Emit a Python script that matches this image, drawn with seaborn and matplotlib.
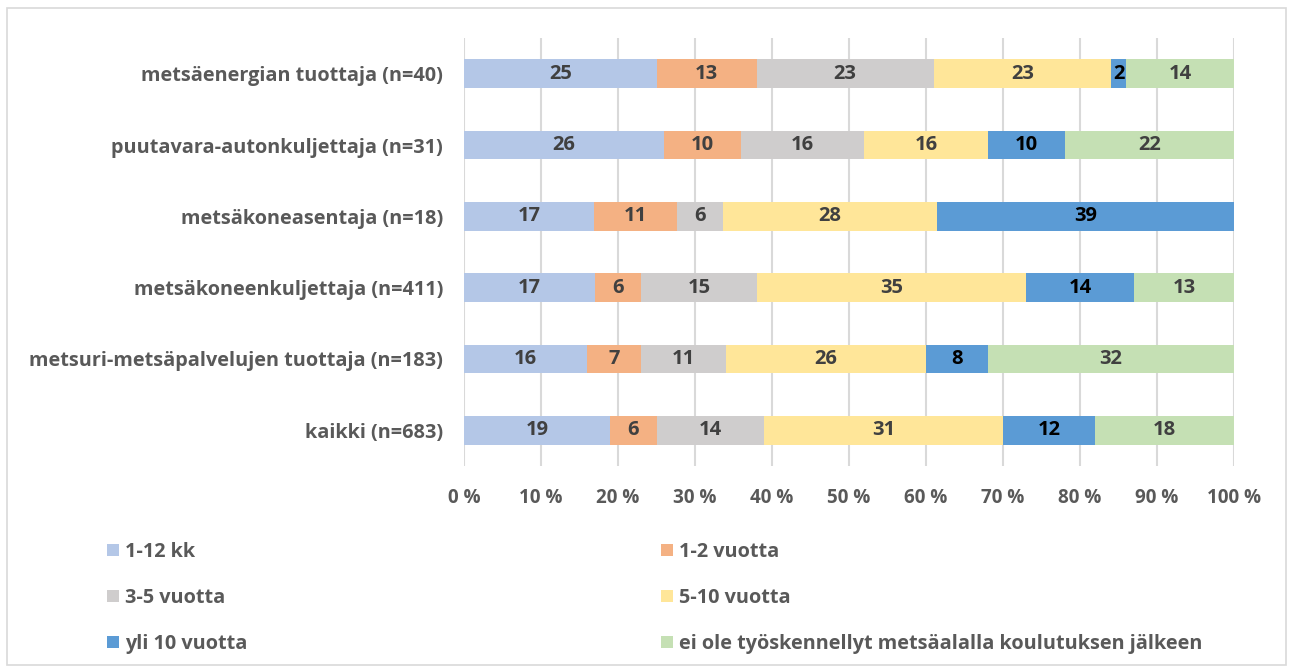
import matplotlib
matplotlib.use("Agg")
import matplotlib.pyplot as plt
import seaborn as sns
import pandas as pd
import numpy as np
from matplotlib.patches import Patch, Rectangle

categories = [
    "metsäenergian tuottaja (n=40)",
    "puutavara-autonkuljettaja (n=31)",
    "metsäkoneasentaja (n=18)",
    "metsäkoneenkuljettaja (n=411)",
    "metsuri-metsäpalvelujen tuottaja (n=183)",
    "kaikki (n=683)",
]
series_names = ["1-12 kk", "1-2 vuotta", "3-5 vuotta", "5-10 vuotta", "yli 10 vuotta",
                "ei ole työskennellyt metsäalalla koulutuksen jälkeen"]
v_1_12kk = [25, 26, 17, 17, 16, 19]
v_1_2 = [13, 10, 11, 6, 7, 6]
v_3_5 = [23, 16, 6, 15, 11, 14]
v_5_10 = [23, 16, 28, 35, 26, 31]
v_yli10 = [2, 10, 39, 14, 8, 12]
v_ei = [14, 22, 0, 13, 32, 18]
tick_labels = ["0 %", "10 %", "20 %", "30 %", "40 %", "50 %", "60 %", "70 %", "80 %", "90 %", "100 %"]

colors = ["#B4C7E7", "#F4B183", "#CFCDCD", "#FFE699", "#5B9BD5", "#C5E0B4"]
label_colors = ["#404040", "#404040", "#404040", "#404040", "#000000", "#404040"]

sns.set_theme(style="white")
plt.rcParams["font.family"] = ["Open Sans", "DejaVu Sans"]
plt.rcParams["font.weight"] = "bold"

FS = 14.3
FS_VAL = 14.5
FS_TICK = 13.6

vals = np.array([v_1_12kk, v_1_2, v_3_5, v_5_10, v_yli10, v_ei], dtype=float)
totals = vals.sum(axis=0)
pct = vals / totals * 100
cum = np.cumsum(pct, axis=0)

fig = plt.figure(figsize=(12.93, 6.69), dpi=100)
ax = fig.add_axes([464 / 1293, 1 - 466 / 669, 770 / 1293, 428 / 669])

for i in range(len(series_names) - 1, -1, -1):
    df = pd.DataFrame({"cat": categories, "val": cum[i]})
    sns.barplot(data=df, x="val", y="cat", orient="h", color=colors[i],
                saturation=1, width=0.4, ax=ax, order=categories, linewidth=0)

for i in range(len(series_names)):
    for j in range(len(categories)):
        if vals[i, j] > 0:
            left = cum[i, j] - pct[i, j]
            ax.text(left + pct[i, j] / 2, j, f"{int(vals[i, j])}", ha="center", va="center",
                    fontsize=FS_VAL, fontweight="bold", color=label_colors[i])

ax.set_xlim(0, 100)
ax.set_ylim(5.5, -0.5)
ax.set_xticks(np.arange(0, 101, 10))
ax.set_xticklabels(tick_labels, fontsize=FS_TICK, fontweight="bold", color="#595959")
ax.set_yticks(range(len(categories)))
ax.set_yticklabels(categories, fontsize=FS, fontweight="bold", color="#595959")
ax.tick_params(axis="x", length=0, pad=16)
ax.tick_params(axis="y", length=0, pad=15)
ax.set_xlabel("")
ax.set_ylabel("")
ax.grid(axis="x", color="#D9D9D9", linewidth=1.5)
ax.set_axisbelow(True)
for s in ax.spines.values():
    s.set_visible(False)

handles = [Patch(facecolor=c, edgecolor="none") for c in colors]
leg_kw = dict(loc="center left", frameon=False, handlelength=0.6, handleheight=0.6,
              handletextpad=0.3, labelspacing=1.3, labelcolor="#595959",
              prop={"weight": "bold", "size": FS}, borderpad=0, borderaxespad=0)
leg1 = fig.legend([handles[k] for k in [0, 2, 4]], [series_names[k] for k in [0, 2, 4]],
                  bbox_to_anchor=(107 / 1293, 1 - 598 / 669), **leg_kw)
leg2 = fig.legend([handles[k] for k in [1, 3, 5]], [series_names[k] for k in [1, 3, 5]],
                  bbox_to_anchor=(661 / 1293, 1 - 598 / 669), **leg_kw)

fig.patches.append(Rectangle((7 / 1293, 4 / 669), 1279 / 1293, 657 / 669,
                             transform=fig.transFigure, fill=False,
                             edgecolor="#D9D9D9", linewidth=1.2))

fig.savefig("out.png", dpi=100, facecolor="white")
